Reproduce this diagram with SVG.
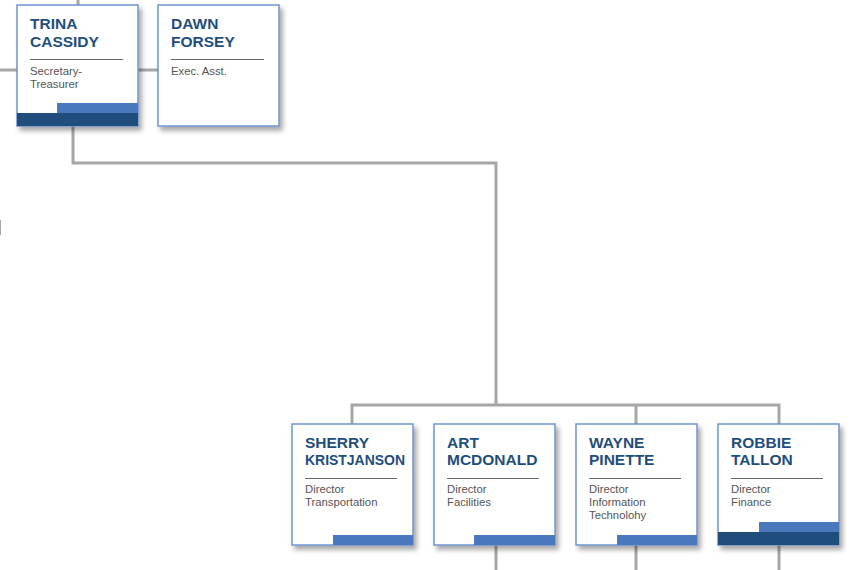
<svg xmlns="http://www.w3.org/2000/svg" width="858" height="570" viewBox="0 0 858 570">
<defs>
<filter id="sh" x="-10%" y="-10%" width="130%" height="130%">
<feDropShadow dx="3" dy="4" stdDeviation="2.5" flood-color="#000" flood-opacity="0.35"/>
</filter>
</defs>
<style>
.box{fill:#fff;stroke:#7094cf;stroke-width:1.5;filter:url(#sh)}
.lb{fill:#4a78bd}
.db{fill:#1f4e7c}
.nm{font-family:"Liberation Sans",Arial,sans-serif;font-weight:bold;font-size:15.5px;fill:#1f4e7c}
.tt{font-family:"Liberation Sans",Arial,sans-serif;font-size:11.3px;fill:#555}
.sep{stroke:#666;stroke-width:1}
.con{fill:none;stroke:#a6a6a6;stroke-width:3}
</style>
<rect width="858" height="570" fill="#fff"/>
<g id="connectors">
<path class="con" d="M0 70H17M138 70H158M78 0V5"/>
<path class="con" d="M73 126V163H496V405"/>
<path class="con" d="M352 424V405H779V424M636 405V424"/>
<path class="con" d="M496 545V570M636 545V570M779 545V570"/>
<path d="M0.5 220V235" stroke="#a6a6a6" stroke-width="1"/>
</g>
<g id="trina">
<rect class="box" x="17" y="5" width="121" height="121"/>
<rect class="lb" x="57" y="103" width="81" height="10"/>
<rect class="db" x="17" y="113" width="121" height="13"/>
<text class="nm" x="30" y="29">TRINA</text>
<text class="nm" x="30" y="47">CASSIDY</text>
<line class="sep" x1="30" y1="59.5" x2="123" y2="59.5"/>
<text class="tt" x="30" y="75">Secretary-</text>
<text class="tt" x="30" y="88">Treasurer</text>
</g>
<g id="dawn">
<rect class="box" x="158" y="5" width="121" height="121"/>
<text class="nm" x="171" y="29">DAWN</text>
<text class="nm" x="171" y="47">FORSEY</text>
<line class="sep" x1="171" y1="59.5" x2="264" y2="59.5"/>
<text class="tt" x="171" y="75">Exec. Asst.</text>
</g>
<g id="sherry">
<rect class="box" x="292" y="424" width="121" height="121"/>
<rect class="lb" x="333" y="535" width="80" height="10"/>
<text class="nm" x="305" y="448">SHERRY</text>
<text class="nm" x="305" y="465" textLength="100" lengthAdjust="spacingAndGlyphs">KRISTJANSON</text>
<line class="sep" x1="305" y1="478.5" x2="397" y2="478.5"/>
<text class="tt" x="305" y="493">Director</text>
<text class="tt" x="305" y="506">Transportation</text>
</g>
<g id="art">
<rect class="box" x="434" y="424" width="121" height="121"/>
<rect class="lb" x="474" y="535" width="81" height="10"/>
<text class="nm" x="447" y="448">ART</text>
<text class="nm" x="447" y="465">MCDONALD</text>
<line class="sep" x1="447" y1="478.5" x2="539" y2="478.5"/>
<text class="tt" x="447" y="493">Director</text>
<text class="tt" x="447" y="506">Facilities</text>
</g>
<g id="wayne">
<rect class="box" x="576" y="424" width="121" height="121"/>
<rect class="lb" x="617" y="535" width="80" height="10"/>
<text class="nm" x="589" y="448">WAYNE</text>
<text class="nm" x="589" y="465">PINETTE</text>
<line class="sep" x1="589" y1="478.5" x2="681" y2="478.5"/>
<text class="tt" x="589" y="493">Director</text>
<text class="tt" x="589" y="506">Information</text>
<text class="tt" x="589" y="519">Technolohy</text>
</g>
<g id="robbie">
<rect class="box" x="718" y="424" width="121" height="121"/>
<rect class="lb" x="759" y="522" width="80" height="10"/>
<rect class="db" x="718" y="532" width="121" height="13"/>
<text class="nm" x="731" y="448">ROBBIE</text>
<text class="nm" x="731" y="465">TALLON</text>
<line class="sep" x1="731" y1="478.5" x2="823" y2="478.5"/>
<text class="tt" x="731" y="493">Director</text>
<text class="tt" x="731" y="506">Finance</text>
</g>
</svg>
